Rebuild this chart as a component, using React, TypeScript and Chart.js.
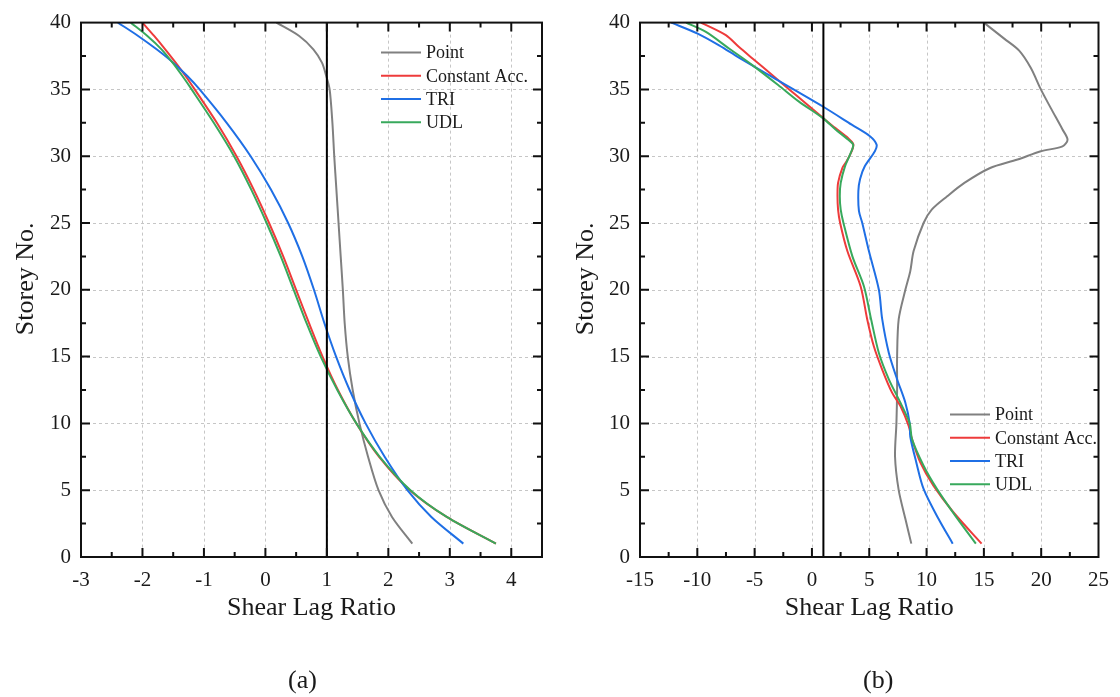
import React, { useEffect, useRef } from "react";
import { Chart, registerables } from "chart.js";

Chart.register(...registerables);

const FONT = "'Liberation Serif', 'Times New Roman', Times, serif";
const TEXT = "#1a1a1a";

const seriesNames = ["Point", "Constant Acc.", "TRI", "UDL"];
const seriesColors = ["#808080", "#ee3b3b", "#1f6fe5", "#38a95c"];
const seriesOrder = [5, 4, 3, 2];

const yTicks = [0, 5, 10, 15, 20, 25, 30, 35, 40];
const yTitle = "Storey No.";
const xTitle = "Shear Lag Ratio";
const refRatio = 1;
const refStoreys = [0, 40];

// ---------- Panel (a) ----------
const aXTicks = [-3, -2, -1, 0, 1, 2, 3, 4];
const aStoreys = [1, 3, 5, 7.5, 10, 12.5, 15, 17.5, 20, 22.5, 25, 27.5, 30, 32.5, 35, 36, 37, 38, 39, 40];
const aPoint = [2.39, 2.06, 1.84, 1.67, 1.53, 1.42, 1.34, 1.29, 1.26, 1.225, 1.19, 1.155, 1.12, 1.09, 1.045, 0.99, 0.92, 0.78, 0.55, 0.18];
const aConstAcc = [3.75, 2.95, 2.35, 1.85, 1.48, 1.18, 0.93, 0.71, 0.5, 0.29, 0.06, -0.19, -0.47, -0.79, -1.15, -1.3, -1.46, -1.63, -1.81, -2.0];
const aTri = [3.22, 2.7, 2.31, 1.94, 1.63, 1.37, 1.15, 0.96, 0.79, 0.6, 0.37, 0.09, -0.24, -0.63, -1.07, -1.27, -1.5, -1.77, -2.07, -2.4];
const aUdl = [3.75, 2.95, 2.36, 1.86, 1.48, 1.17, 0.9, 0.67, 0.46, 0.25, 0.02, -0.23, -0.51, -0.84, -1.2, -1.35, -1.51, -1.69, -1.92, -2.19];

// ---------- Panel (b) ----------
const bXTicks = [-15, -10, -5, 0, 5, 10, 15, 20, 25];
const bPointStoreys = [1, 2.86, 5, 7.5, 10, 12.5, 15, 17.8, 20, 21.4, 22.9, 25, 26, 27, 28, 29.1, 29.75, 30.37, 30.74, 31.24, 32, 33.6, 35, 36.6, 37.9, 38.8, 40];
const bPoint = [8.67, 8.15, 7.57, 7.25, 7.37, 7.43, 7.43, 7.57, 8.15, 8.58, 8.87, 9.74, 10.45, 11.8, 13.3, 15.5, 17.94, 19.97, 21.86, 22.3, 21.86, 20.84, 19.97, 19.1, 18.08, 16.77, 15.0];
const bConstStoreys = [1, 3.35, 5.34, 7.08, 8.82, 9.81, 11.3, 12.3, 14.03, 15.77, 17.76, 20.25, 22.9, 25, 26, 27, 28, 29.13, 29.63, 30.37, 30.9, 31.36, 32.1, 32.84, 33.97, 35, 36.08, 37.3, 38.17, 39.06, 40];
const bConstAcc = [14.8, 12.34, 10.6, 9.45, 8.73, 8.44, 7.72, 6.99, 6.13, 5.4, 4.83, 4.25, 3.09, 2.46, 2.28, 2.23, 2.28, 2.66, 3.03, 3.47, 3.61, 3.15, 2.05, 1.01, -0.55, -1.98, -3.47, -5.16, -6.36, -7.51, -9.68];
const bTriStoreys = [1, 2.86, 5.1, 7.1, 9, 10, 11.55, 13.3, 15.27, 17.8, 20, 22.9, 25, 25.9, 27.4, 28.3, 29.26, 30.37, 30.87, 31.5, 32.36, 33.72, 35.83, 37.38, 38.3, 39.18, 40];
const bTri = [12.28, 11.04, 9.74, 9.1, 8.58, 8.53, 8.15, 7.43, 6.71, 6.13, 5.84, 4.97, 4.39, 4.1, 4.05, 4.2, 4.62, 5.49, 5.64, 5.06, 3.47, 0.95, -3.27, -6.37, -8.1, -9.97, -12.28];
const bUdlStoreys = [1, 3.1, 5.1, 6.83, 8.82, 10, 11.55, 13.3, 15.27, 17.76, 20.25, 22.5, 25, 26, 27, 28, 29.26, 30.12, 30.85, 31.25, 32, 32.85, 34.1, 35.33, 36.82, 38.06, 39.3, 40];
const bUdl = [14.3, 12.5, 10.9, 9.74, 8.73, 8.53, 7.72, 6.71, 5.84, 5.17, 4.54, 3.53, 2.75, 2.51, 2.43, 2.51, 2.89, 3.32, 3.6, 3.15, 2.06, 0.95, -1.16, -2.95, -5.2, -7.23, -9.25, -10.98];

type Series = { storeys: number[]; ratios: number[] };
type Panel = {
  label: string;
  xMin: number;
  xMax: number;
  xMajor: number[];
  xMinorStep: number;
  padLeft: number;
  padRight: number;
  series: Series[];
  legendDx: number;
  legendDy: number;
  labelShift: number;
};

const panels: Panel[] = [
  {
    label: "(a)",
    xMin: -3,
    xMax: 4.5,
    xMajor: aXTicks,
    xMinorStep: 0.5,
    padLeft: 81,
    padRight: 18,
    series: [
      { storeys: aStoreys, ratios: aPoint },
      { storeys: aStoreys, ratios: aConstAcc },
      { storeys: aStoreys, ratios: aTri },
      { storeys: aStoreys, ratios: aUdl },
    ],
    legendDx: 300,
    legendDy: 30,
    labelShift: -9,
  },
  {
    label: "(b)",
    xMin: -15,
    xMax: 25,
    xMajor: bXTicks,
    xMinorStep: 2.5,
    padLeft: 80,
    padRight: 17,
    series: [
      { storeys: bPointStoreys, ratios: bPoint },
      { storeys: bConstStoreys, ratios: bConstAcc },
      { storeys: bTriStoreys, ratios: bTri },
      { storeys: bUdlStoreys, ratios: bUdl },
    ],
    legendDx: 310,
    legendDy: 392,
    labelShift: 9,
  },
];

const W = 560;
const H = 697;

function makeDecor(p: Panel) {
  return {
    id: "decor",
    beforeDatasetsDraw(chart: any) {
      const { ctx, chartArea: ca, scales } = chart;
      const sx = scales.x;
      const sy = scales.y;
      ctx.save();
      ctx.strokeStyle = "#c6c6c6";
      ctx.lineWidth = 1;
      ctx.setLineDash([3, 3]);
      for (const v of p.xMajor) {
        if (v <= p.xMin || v >= p.xMax) continue;
        const px = Math.round(sx.getPixelForValue(v)) + 0.5;
        ctx.beginPath();
        ctx.moveTo(px, ca.top);
        ctx.lineTo(px, ca.bottom);
        ctx.stroke();
      }
      for (const v of yTicks) {
        if (v <= 0 || v >= 40) continue;
        const py = Math.round(sy.getPixelForValue(v)) + 0.5;
        ctx.beginPath();
        ctx.moveTo(ca.left, py);
        ctx.lineTo(ca.right, py);
        ctx.stroke();
      }
      ctx.restore();
    },
    afterDatasetsDraw(chart: any) {
      const { ctx, chartArea: ca, scales } = chart;
      const sx = scales.x;
      const sy = scales.y;
      ctx.save();
      ctx.setLineDash([]);
      ctx.strokeStyle = "#111";
      ctx.lineWidth = 2;
      ctx.strokeRect(ca.left, ca.top, ca.right - ca.left, ca.bottom - ca.top);

      const MAJ = 9;
      const MIN = 5;
      ctx.lineWidth = 2;
      const nx = Math.round((p.xMax - p.xMin) / p.xMinorStep);
      for (let i = 1; i < nx; i++) {
        const v = p.xMin + i * p.xMinorStep;
        const isMaj = p.xMajor.some((m) => Math.abs(m - v) < 1e-9);
        const len = isMaj ? MAJ : MIN;
        const px = sx.getPixelForValue(v);
        ctx.beginPath();
        ctx.moveTo(px, ca.bottom);
        ctx.lineTo(px, ca.bottom - len);
        ctx.moveTo(px, ca.top);
        ctx.lineTo(px, ca.top + len);
        ctx.stroke();
      }
      for (let i = 1; i < 16; i++) {
        const v = i * 2.5;
        const isMaj = i % 2 === 0;
        const len = isMaj ? MAJ : MIN;
        const py = sy.getPixelForValue(v);
        ctx.beginPath();
        ctx.moveTo(ca.left, py);
        ctx.lineTo(ca.left + len, py);
        ctx.moveTo(ca.right, py);
        ctx.lineTo(ca.right - len, py);
        ctx.stroke();
      }

      // legend
      ctx.font = `18px ${FONT}`;
      ctx.textBaseline = "middle";
      ctx.textAlign = "left";
      for (let i = 0; i < seriesNames.length; i++) {
        const x0 = ca.left + p.legendDx;
        const y0 = ca.top + p.legendDy + i * 23.2;
        ctx.strokeStyle = seriesColors[i];
        ctx.lineWidth = 2;
        ctx.beginPath();
        ctx.moveTo(x0, y0);
        ctx.lineTo(x0 + 40, y0);
        ctx.stroke();
        ctx.fillStyle = TEXT;
        ctx.fillText(seriesNames[i], x0 + 45, y0 + 1);
      }

      // y-axis title
      ctx.save();
      ctx.font = `26px ${FONT}`;
      ctx.fillStyle = TEXT;
      ctx.textAlign = "center";
      ctx.textBaseline = "middle";
      ctx.translate(26, (ca.top + ca.bottom) / 2 - 11);
      ctx.rotate(-Math.PI / 2);
      ctx.fillText(yTitle, 0, 0);
      ctx.restore();

      // panel label
      ctx.font = `26px ${FONT}`;
      ctx.textAlign = "center";
      ctx.textBaseline = "middle";
      ctx.fillStyle = TEXT;
      ctx.fillText(p.label, (ca.left + ca.right) / 2 + p.labelShift, 681);
      ctx.restore();
    },
  };
}

function buildChart(canvas: HTMLCanvasElement, p: Panel) {
  const datasets: any[] = p.series.map((s, i) => ({
    label: seriesNames[i],
    data: s.storeys.map((y, k) => ({ x: s.ratios[k], y })),
    borderColor: seriesColors[i],
    backgroundColor: seriesColors[i],
    borderWidth: 2,
    pointRadius: 0,
    showLine: true,
    tension: 0.3,
    fill: false,
    order: seriesOrder[i],
  }));
  datasets.push({
    label: "ref",
    data: refStoreys.map((y) => ({ x: refRatio, y })),
    borderColor: "#000",
    borderWidth: 2,
    pointRadius: 0,
    showLine: true,
    tension: 0,
    order: 1,
  });

  const tickFont = { family: FONT, size: 21 };
  const titleFont = { family: FONT, size: 26 };

  return new Chart(canvas, {
    type: "scatter",
    data: { datasets },
    plugins: [makeDecor(p)],
    options: {
      responsive: false,
      animation: false,
      events: [],
      layout: { padding: { left: 0, right: p.padRight, top: 19, bottom: 0 } },
      plugins: { legend: { display: false }, tooltip: { enabled: false } },
      scales: {
        x: {
          type: "linear",
          min: p.xMin,
          max: p.xMax,
          afterBuildTicks: (s: any) => {
            s.ticks = p.xMajor.map((v) => ({ value: v }));
          },
          afterFit: (s: any) => {
            s.height = 140;
          },
          grid: { display: false, drawTicks: false },
          border: { display: false },
          ticks: {
            font: tickFont,
            color: TEXT,
            padding: 11,
            maxRotation: 0,
            autoSkip: false,
            callback: (v: any) => String(v),
          },
          title: {
            display: true,
            text: xTitle,
            font: titleFont,
            color: TEXT,
            padding: { top: 0, bottom: 73 },
          },
        },
        y: {
          type: "linear",
          min: 0,
          max: 40,
          afterBuildTicks: (s: any) => {
            s.ticks = yTicks.map((v) => ({ value: v }));
          },
          afterFit: (s: any) => {
            s.width = p.padLeft;
          },
          grid: { display: false, drawTicks: false },
          border: { display: false },
          ticks: {
            font: tickFont,
            color: TEXT,
            padding: 10,
            autoSkip: false,
            callback: (v: any) => String(v),
          },
          title: { display: false },
        },
      },
    } as any,
  });
}

export default function App() {
  const refA = useRef<HTMLCanvasElement | null>(null);
  const refB = useRef<HTMLCanvasElement | null>(null);

  useEffect(() => {
    const charts: Chart[] = [];
    if (refA.current) charts.push(buildChart(refA.current, panels[0]));
    if (refB.current) charts.push(buildChart(refB.current, panels[1]));
    return () => {
      charts.forEach((c) => c.destroy());
    };
  }, []);

  return (
    <div
      style={{
        position: "absolute",
        left: 0,
        top: 0,
        width: 1120,
        height: 697,
        background: "#fff",
        overflow: "hidden",
      }}
    >
      <canvas
        ref={refA}
        width={W}
        height={H}
        style={{ position: "absolute", left: 0, top: 0, width: W, height: H }}
      />
      <canvas
        ref={refB}
        width={W}
        height={H}
        style={{ position: "absolute", left: 560, top: 0, width: W, height: H }}
      />
    </div>
  );
}
